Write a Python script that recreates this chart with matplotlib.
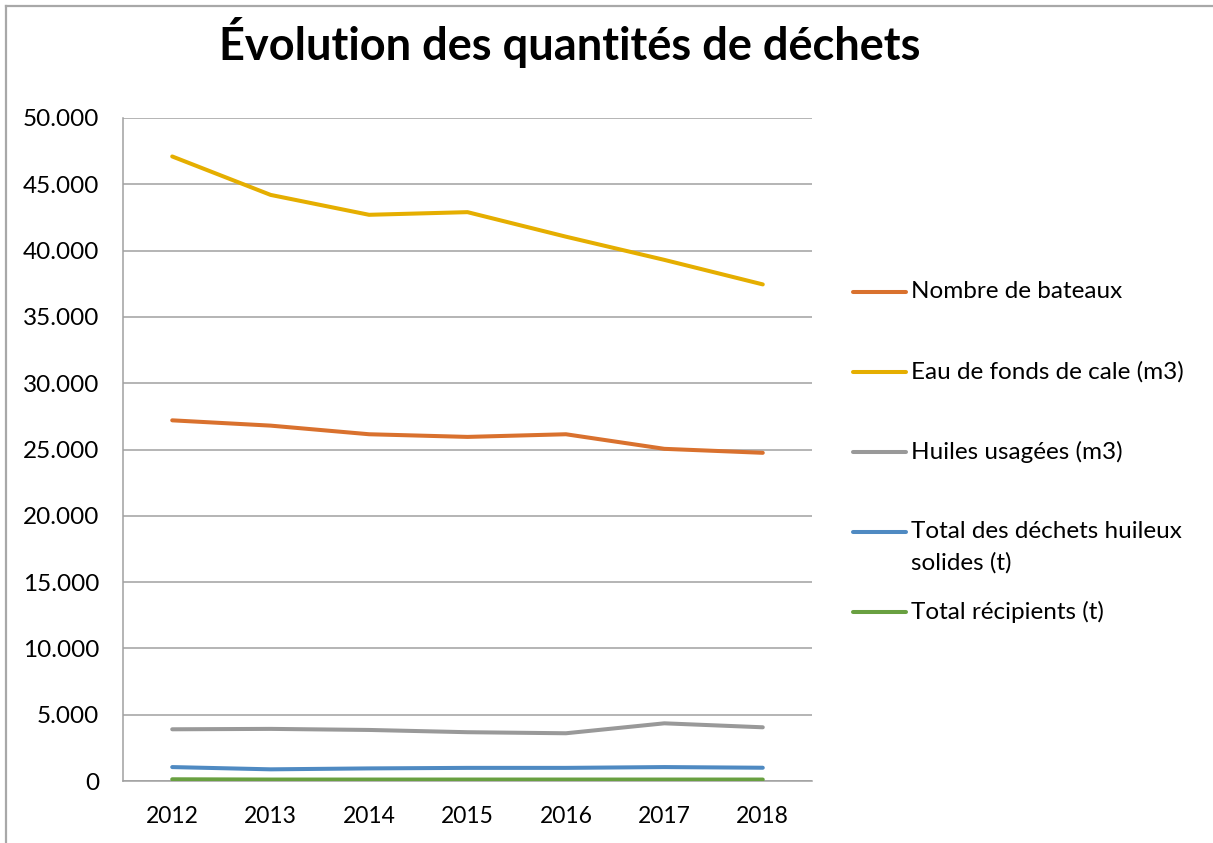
import matplotlib
matplotlib.use("Agg")
import matplotlib.pyplot as plt
from matplotlib.lines import Line2D
from matplotlib.ticker import FuncFormatter, MultipleLocator

plt.rcParams['font.family'] = ['Lato', 'DejaVu Sans']

years = ["2012", "2013", "2014", "2015", "2016", "2017", "2018"]

bateaux = [27200, 26800, 26150, 25950, 26150, 25050, 24750]
eau_cale = [47100, 44200, 42700, 42900, 41050, 39300, 37450]
huiles = [3900, 3930, 3850, 3680, 3600, 4350, 4050]
dechets_solides = [1050, 880, 950, 990, 990, 1050, 1000]
recipients = [130, 110, 110, 110, 110, 110, 110]

labels = ["Nombre de bateaux", "Eau de fonds de cale (m3)", "Huiles usagées (m3)",
          "Total des déchets huileux\nsolides (t)", "Total récipients (t)"]
series = [bateaux, eau_cale, huiles, dechets_solides, recipients]
colors = ["#D9712E", "#E5AE00", "#999999", "#4F8AC2", "#69A041"]

W, H = 1213, 843
fig = plt.figure(figsize=(W / 100, H / 100), dpi=100)
ax = fig.add_axes([123 / W, 1 - 781 / H, (812 - 123) / W, (781 - 118) / H])

x = range(len(years))
for vals, col in zip(series, colors):
    ax.plot(x, vals, color=col, lw=2.9, solid_capstyle='round', zorder=3)

ax.set_xlim(-0.5, len(years) - 0.5)
ax.set_ylim(0, 50000)
ax.yaxis.set_major_locator(MultipleLocator(5000))
ax.yaxis.set_major_formatter(FuncFormatter(lambda v, p: f"{int(v):,}".replace(",", ".")))
ax.set_xticks(list(x))
ax.set_xticklabels(years)
ax.tick_params(axis='both', length=0, labelsize=16.5, colors='black')
ax.tick_params(axis='y', labelsize=17.5, pad=17)
ax.tick_params(axis='x', pad=18)
ax.grid(axis='y', color='#A0A0A0', lw=1.1)
ax.set_axisbelow(True)
for s in ['top', 'right']:
    ax.spines[s].set_visible(False)
for s in ['left', 'bottom']:
    ax.spines[s].set_color('#A0A0A0')
    ax.spines[s].set_linewidth(1.1)

# title
fig.text(570 / W, 1 - 42 / H, "Évolution des quantités de déchets",
         ha='center', va='center', fontsize=32.5, fontweight='bold')

# legend drawn by hand (handle aligned with first text line)
leg_y = [292, 372, 452, 532, 612]
for lab, col, yy in zip(labels, colors, leg_y):
    yf = 1 - yy / H
    fig.add_artist(Line2D([853 / W, 906 / W], [yf, yf], color=col, lw=2.9,
                          solid_capstyle='round', transform=fig.transFigure))
    fig.text(911 / W, yf + 0.0135, lab, ha='left', va='top', fontsize=17.5,
             linespacing=1.6)

# chart border (only top and left visible)
fig.add_artist(Line2D([6 / W, 1.0], [1 - 6 / H, 1 - 6 / H], color='#A8A8A8', lw=1.6,
                      transform=fig.transFigure))
fig.add_artist(Line2D([6 / W, 6 / W], [0, 1 - 6 / H], color='#A8A8A8', lw=1.6,
                      transform=fig.transFigure))

fig.savefig("out.png", dpi=100)
